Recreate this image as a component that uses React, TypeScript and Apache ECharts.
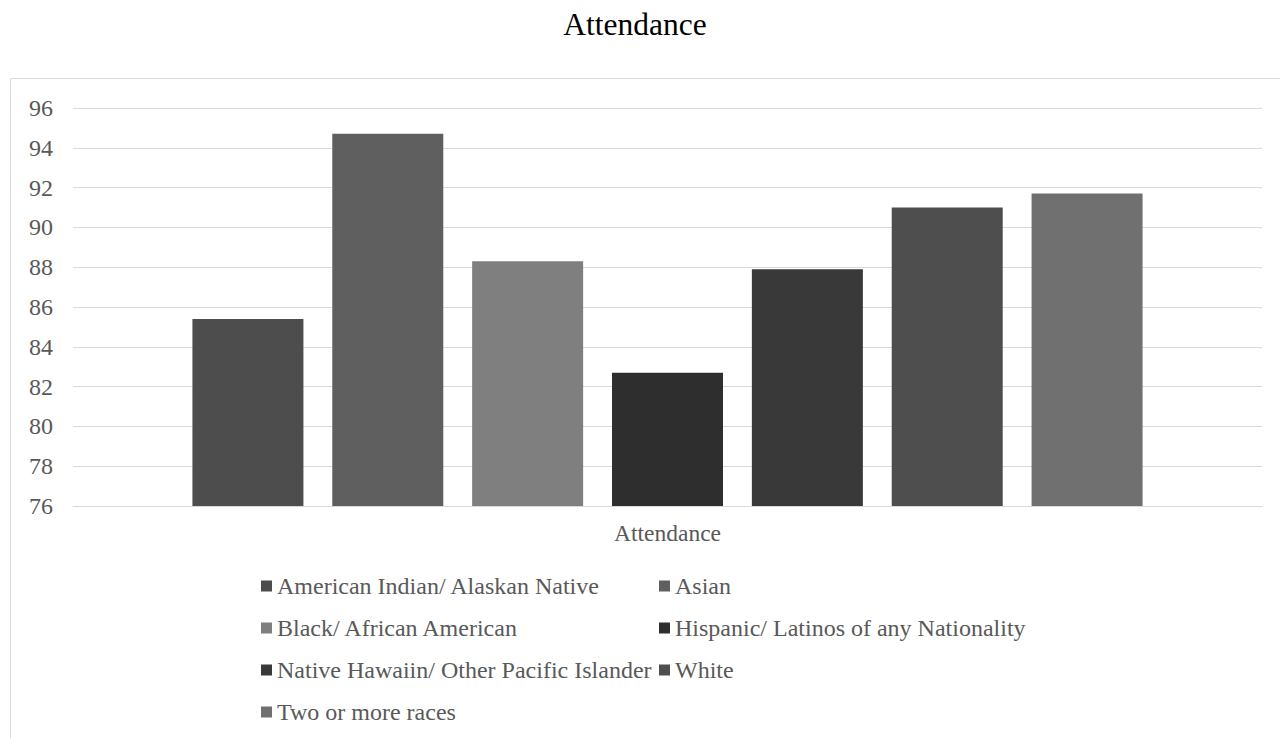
import React, { useEffect, useRef } from "react";
import * as echarts from "echarts";

// Attendance rate by race / ethnicity (single category, one series per group)
const categories: string[] = ["Attendance"];

const groupNames: string[] = [
  "American Indian/ Alaskan Native",
  "Asian",
  "Black/ African American",
  "Hispanic/ Latinos of any Nationality",
  "Native Hawaiin/ Other Pacific Islander",
  "White",
  "Two or more races",
];

const groupValues: number[] = [85.4, 94.7, 88.3, 82.7, 87.9, 91.0, 91.7];

const groupColors: string[] = [
  "#4d4d4d",
  "#5f5f5f",
  "#7f7f7f",
  "#2e2e2e",
  "#393939",
  "#4e4e4e",
  "#707070",
];

const yMin = 76;
const yMax = 96;
const yStep = 2;

// Legend laid out in two columns, filled row by row
const legendLeftColumn: string[] = [groupNames[0], groupNames[2], groupNames[4], groupNames[6]];
const legendRightColumn: string[] = [groupNames[1], groupNames[3], groupNames[5]];

const FONT = "'Liberation Serif', 'Times New Roman', serif";
const TEXT_GREY = "#595959";
const LINE_GREY = "#d9d9d9";

export default function App() {
  const ref = useRef<HTMLDivElement>(null);

  useEffect(() => {
    if (!ref.current) return;
    const chart = echarts.init(ref.current, undefined, { renderer: "svg" });

    const legendBase = {
      orient: "vertical" as const,
      top: 574,
      padding: 0,
      itemGap: 18,
      itemWidth: 11,
      itemHeight: 11,
      icon: "rect",
      selectedMode: false,
      textStyle: {
        fontFamily: FONT,
        fontSize: 24,
        color: TEXT_GREY,
        lineHeight: 24,
      },
    };

    chart.setOption({
      animation: false,
      backgroundColor: "#ffffff",
      graphic: [
        {
          type: "rect",
          shape: { x: 10.5, y: 78.5, width: 1300, height: 700 },
          style: { fill: "none", stroke: LINE_GREY, lineWidth: 1 },
          silent: true,
        },
        {
          type: "text",
          x: 635,
          y: 24,
          style: {
            text: "Attendance",
            font: `31.5px ${FONT}`,
            fill: "#000000",
            align: "center",
            verticalAlign: "middle",
          },
        },
      ],
      grid: {
        left: 73,
        right: 18,
        top: 108,
        bottom: 232,
        containLabel: false,
      },
      legend: [
        { ...legendBase, left: 261, data: legendLeftColumn },
        { ...legendBase, left: 659, data: legendRightColumn },
      ],
      xAxis: {
        type: "category",
        data: categories,
        axisLine: { show: true, lineStyle: { color: LINE_GREY, width: 1 } },
        axisTick: { show: false },
        axisLabel: {
          margin: 15,
          fontFamily: FONT,
          fontSize: 23.5,
          color: TEXT_GREY,
        },
      },
      yAxis: {
        type: "value",
        min: yMin,
        max: yMax,
        interval: yStep,
        axisLine: { show: false },
        axisTick: { show: false },
        splitLine: { show: true, lineStyle: { color: LINE_GREY, width: 1 } },
        axisLabel: {
          margin: 20,
          fontFamily: FONT,
          fontSize: 24,
          color: TEXT_GREY,
        },
      },
      series: groupNames.map((name, i) => ({
        name,
        type: "bar",
        data: [groupValues[i]],
        barWidth: 111,
        barGap: "26%",
        itemStyle: { color: groupColors[i] },
      })),
    });

    return () => {
      chart.dispose();
    };
  }, []);

  return (
    <div
      ref={ref}
      style={{ position: "absolute", left: 0, top: 0, width: 1280, height: 738 }}
    />
  );
}
